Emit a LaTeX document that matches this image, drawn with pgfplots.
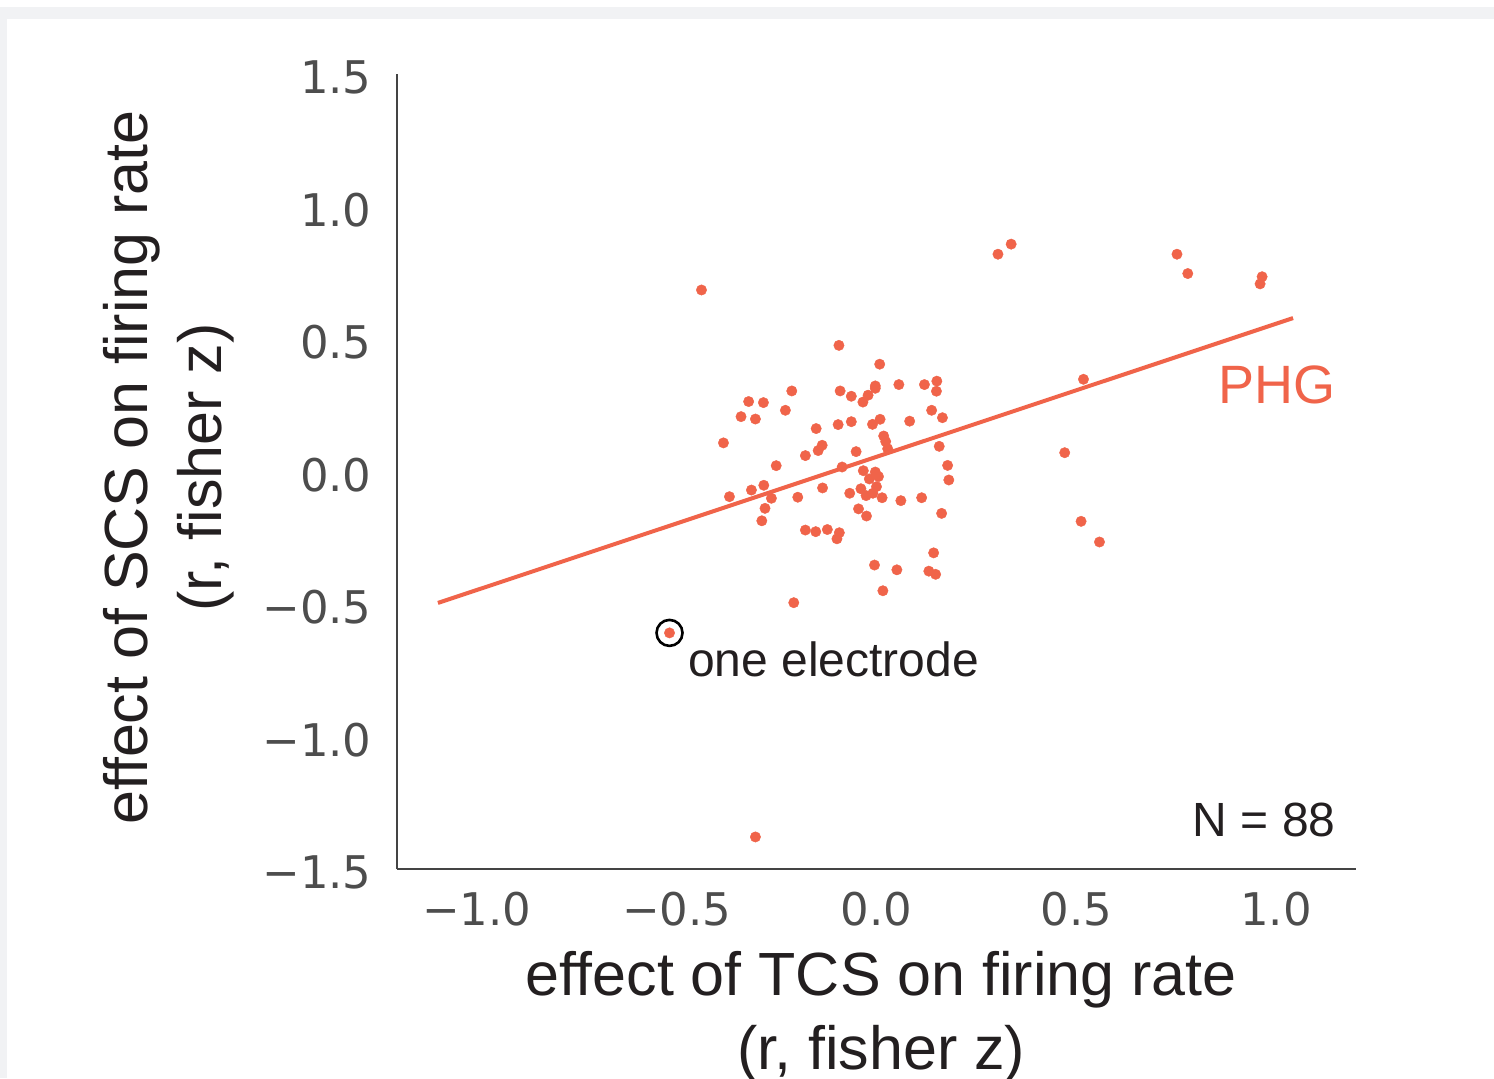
\documentclass[border=0pt]{standalone}
\usepackage{pgfplots}
\pgfplotsset{compat=1.18}
\usepackage{pgfplotstable}
\usepackage{fontspec}
\setmainfont{Liberation Sans}
\newfontfamily\dejavu{DejaVu Sans}
\definecolor{phg}{HTML}{F0644A}
\definecolor{ticktext}{HTML}{4D4D4D}
\definecolor{spine}{HTML}{444444}
\definecolor{labtext}{HTML}{231F20}
\definecolor{framegray}{HTML}{F1F2F4}
\pgfplotstableread{
x y
-0.094 0.476
0.008 0.405
-0.212 0.304
-0.320 0.264
-0.283 0.260
-0.339 0.207
-0.303 0.198
-0.228 0.231
-0.091 0.304
-0.063 0.284
-0.021 0.288
-0.034 0.262
-0.003 0.323
-0.003 0.314
0.056 0.328
0.120 0.328
0.151 0.341
0.150 0.303
0.138 0.231
0.165 0.203
0.083 0.190
0.009 0.197
-0.010 0.178
-0.063 0.188
-0.096 0.177
-0.151 0.162
0.018 0.134
0.023 0.113
0.028 0.086
-0.383 0.108
-0.136 0.099
-0.146 0.079
-0.051 0.075
-0.178 0.060
0.157 0.095
0.178 0.023
0.181 -0.032
-0.251 0.022
-0.086 0.017
-0.033 0.003
-0.003 -0.002
0.005 -0.019
-0.018 -0.028
0.000 -0.057
-0.039 -0.065
-0.067 -0.082
-0.135 -0.062
-0.282 -0.052
-0.313 -0.070
-0.368 -0.095
-0.263 -0.101
-0.197 -0.097
-0.009 -0.082
-0.026 -0.091
0.014 -0.099
0.061 -0.110
0.113 -0.099
-0.279 -0.139
-0.287 -0.186
-0.045 -0.141
-0.025 -0.168
0.163 -0.158
-0.178 -0.221
-0.152 -0.227
-0.123 -0.219
-0.093 -0.231
-0.099 -0.254
0.143 -0.307
-0.005 -0.353
0.051 -0.371
0.131 -0.376
0.148 -0.388
0.016 -0.450
-0.207 -0.495
0.304 0.820
0.337 0.858
0.752 0.820
0.779 0.747
0.965 0.735
0.960 0.708
0.518 0.348
0.471 0.071
0.512 -0.188
0.558 -0.266
-0.438 0.685
-0.518 -0.609
-0.303 -1.379
}\electrodes
\begin{document}
\begin{tikzpicture}
\path[use as bounding box] (-198.5pt,-104.5pt) rectangle (548.5pt,434.5pt);
\fill[white] (-198.5pt,-104.5pt) rectangle (548.5pt,434.5pt);
\fill[framegray] (-198.5pt,425pt) rectangle (548.5pt,431pt);
\fill[framegray] (-198.5pt,-104.5pt) rectangle (-195pt,431pt);
\begin{axis}[
  scale only axis, width=479.5pt, height=397.5pt,
  xmin=-1.2, xmax=1.2, ymin=-1.5, ymax=1.5,
  axis x line*=bottom, axis y line*=left,
  axis line style={spine, line width=1.3pt},
  major tick length=0pt,
  tick style={draw=none},
  clip=false,
  xtick={-1,-0.5,0,0.5,1},
  xticklabels={−1.0,−0.5,0.0,0.5,1.0},
  ytick={-1.5,-1,-0.5,0,0.5,1,1.5},
  yticklabels={−1.5,−1.0,−0.5,0.0,0.5,1.0,1.5},
  ticklabel style={font=\dejavu\fontsize{22.5}{27}\selectfont, text=ticktext, inner sep=0pt},
  xticklabel style={anchor=north, yshift=-11.5pt},
  yticklabel style={anchor=east, xshift=-12.5pt, yshift=-1.7pt},
  xlabel={effect of TCS on firing rate\\(r, fisher z)},
  xlabel style={font=\fontsize{30.5}{37}\selectfont, text=labtext, align=center, inner sep=0pt, anchor=base, at={(axis description cs:0.505,-0.2528)}},
  ylabel={effect of SCS on firing rate\\(r, fisher z)},
  ylabel style={font=\fontsize{30.5}{37}\selectfont, text=labtext, align=center, inner sep=0pt, anchor=base, at={(axis description cs:-0.1825,0.505)}},
]
\addplot[phg, line width=2pt] coordinates {(-1.0975,-0.496) (1.0425,0.579)};
\addplot[phg, only marks, mark=*, mark size=2.6pt, mark options={fill=phg, draw=phg, line width=0.2pt}] table[x=x, y=y] {\electrodes};
\addplot[black, only marks, mark=o, mark size=6.5pt, mark options={draw=black, line width=1.3pt}] coordinates {(-0.518,-0.609)};
\node[anchor=base west, inner sep=0pt, font=\fontsize{27}{31}\selectfont, text=phg] at (axis cs:0.855,0.2585) {PHG};
\node[anchor=base west, inner sep=0pt, font=\fontsize{24}{28}\selectfont, text=labtext] at (axis cs:-0.4725,-0.772) {one electrode};
\node[anchor=base east, inner sep=0pt, font=\fontsize{24}{28}\selectfont, text=labtext] at (axis cs:1.15,-1.379) {N = 88};
\end{axis}
\end{tikzpicture}
\end{document}
